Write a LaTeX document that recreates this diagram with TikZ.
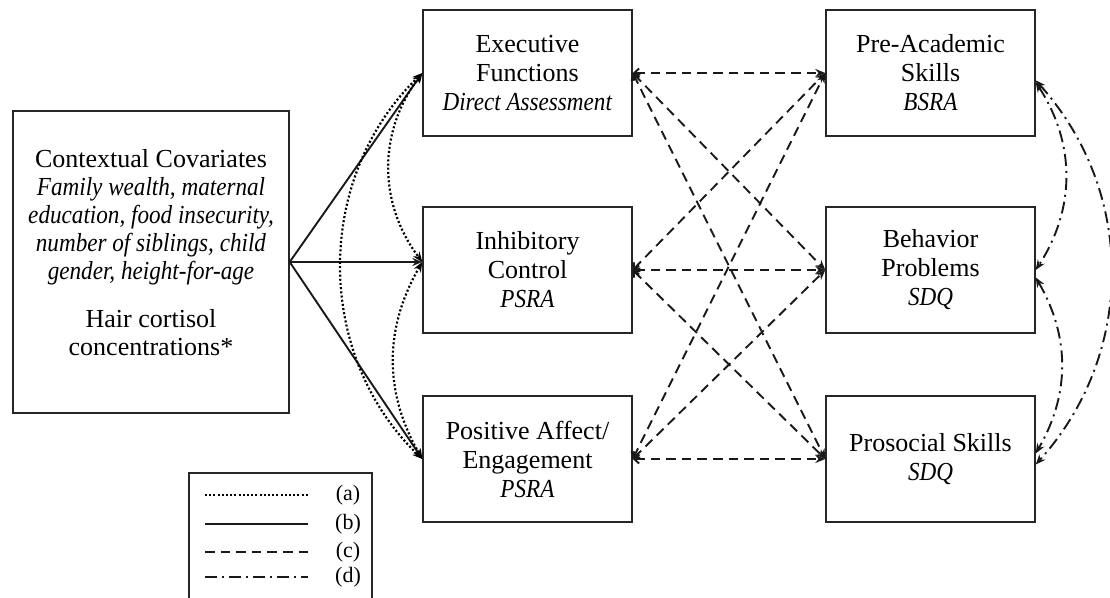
\documentclass[tikz,border=0pt]{standalone}
\usepackage{fontspec}
\setmainfont{Liberation Serif}[ItalicFeatures={FakeStretch=0.89}]
\usetikzlibrary{arrows.meta}
\begin{document}
\begin{tikzpicture}[x=0.5pt,y=-0.5pt,
  box/.style={draw=black!85, line width=0.7pt, minimum width=104.5pt, minimum height=63pt,
    align=center, inner sep=0pt, font=\fontsize{13}{14.5}\selectfont},
  txt/.style={align=center, inner sep=0pt, font=\fontsize{13}{14}\selectfont},
  legtxt/.style={inner sep=0pt, font=\fontsize{11}{12}\selectfont},
  tipS/.tip={Stealth[length=5pt,width=4pt]},
  tipB/.tip={Straight Barb[length=2.5pt,width=4.5pt]},
  solidln/.style={line width=0.95pt, black!90},
  dotln/.style={line width=1.1pt, black, dash pattern=on 1pt off 1.1pt},
  dashln/.style={line width=0.95pt, black!90, dash pattern=on 4.8pt off 3pt},
  ddln/.style={line width=0.95pt, black!90, dash pattern=on 6pt off 2.5pt on 1pt off 2.5pt},
  solidarr/.style={solidln, -tipS},
  dotarr/.style={dotln, tipS-tipS},
  dasharr/.style={dashln, tipB-tipS},
  ddarr/.style={ddln, tipS-tipS},
]
\useasboundingbox (0,0) rectangle (1110,598);

% left box
\node[draw=black!85, line width=0.7pt, minimum width=138pt, minimum height=151pt] (L) at (151,262) {};
\node[txt] (Ltext) at (151,253) {Contextual Covariates\\
  \textit{Family wealth, maternal}\\
  \textit{education, food insecurity,}\\
  \textit{number of siblings, child}\\
  \textit{gender, height-for-age}\\[10pt]
  Hair cortisol\\
  concentrations*};

% middle boxes
\node[box] (M1) at (527.5,73) {Executive\\Functions\\\textit{Direct Assessment}};
\node[box] (M2) at (527.5,270) {Inhibitory\\Control\\\textit{PSRA}};
\node[box] (M3) at (527.5,459) {Positive Affect/\\Engagement\\\textit{PSRA}};

% right boxes
\node[box] (R1) at (930.5,73) {Pre-Academic\\Skills\\\textit{BSRA}};
\node[box] (R2) at (930.5,270) {Behavior\\Problems\\\textit{SDQ}};
\node[box] (R3) at (930.5,459) {Prosocial Skills\\\textit{SDQ}};

\coordinate (M2in) at (L.east -| M2.west);

% solid (b)
\draw[solidarr] (L.east) -- (M1.west);
\draw[solidarr] (L.east) -- (M2in);
\draw[solidarr] (L.east) -- (M3.west);

% dotted (a)
\draw[dotarr] (M1.west) to[bend right=37] (M2in);
\draw[dotarr] (M2in) to[bend right=30] (M3.west);
\draw[dotarr] (M1.west) to[bend right=46] (M3.west);

% dashed (c)
\foreach \m in {M1,M2,M3}{
  \foreach \r in {R1,R2,R3}{
    \draw[dasharr] (\m.east) -- (\r.west);
  }
}

% dash-dot (d)
\draw[ddarr] (R1.-5) to[bend left=33] (R2.east);
\draw[ddarr] (R2.-4) to[bend left=30] (R3.3);
\draw[ddarr] (R1.-4) to[bend left=42] (R3.-3);

% legend
\node[draw=black!85, line width=0.7pt, minimum width=91.5pt, minimum height=66pt, inner sep=0pt] (Leg) at (280.5,539) {};
\coordinate (la1) at (205,495); \coordinate (la2) at (308,495);
\coordinate (lb1) at (205,524); \coordinate (lb2) at (308,524);
\coordinate (lc1) at (205,552); \coordinate (lc2) at (308,552);
\coordinate (ld1) at (205,577); \coordinate (ld2) at (308,577);
\draw[dotln] (la1) -- (la2);
\draw[solidln] (lb1) -- (lb2);
\draw[dashln] (lc1) -- (lc2);
\draw[ddln] (ld1) -- (ld2);
\node[legtxt] (lta) at (348,495) {(a)};
\node[legtxt] (ltb) at (348,524) {(b)};
\node[legtxt] (ltc) at (348,552) {(c)};
\node[legtxt] (ltd) at (348,577) {(d)};
\end{tikzpicture}
\end{document}
